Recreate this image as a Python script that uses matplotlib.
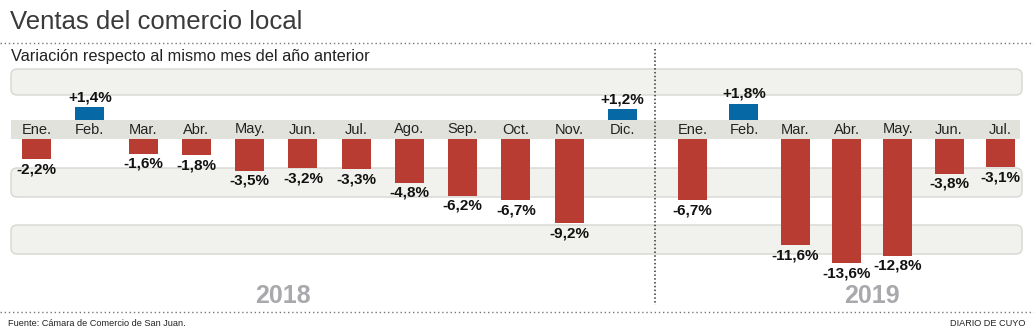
import matplotlib
matplotlib.use("Agg")
import matplotlib.pyplot as plt
from matplotlib.patches import FancyBboxPatch, Rectangle

# --------------------------------------------------
# DATA
# --------------------------------------------------
months_2018 = ["Ene.", "Feb.", "Mar.", "Abr.", "May.", "Jun.", "Jul.",
               "Ago.", "Sep.", "Oct.", "Nov.", "Dic."]
values_2018 = [-2.2, 1.4, -1.6, -1.8, -3.5, -3.2, -3.3, -4.8, -6.2, -6.7, -9.2, 1.2]

months_2019 = ["Ene.", "Feb.", "Mar.", "Abr.", "May.", "Jun.", "Jul."]
values_2019 = [-6.7, 1.8, -11.6, -13.6, -12.8, -3.8, -3.1]

title = "Ventas del comercio local"
subtitle = "Variación respecto al mismo mes del año anterior"
source = "Fuente: Cámara de Comercio de San Juan."
brand = "DIARIO DE CUYO"

# --------------------------------------------------
# STYLE / LAYOUT (pixels)
# --------------------------------------------------
W, H = 1034, 333
RED = "#b83c31"
BLUE = "#0768a6"
BAND = "#f1f1ed"
BAND_EDGE = "#d6d6d2"
LABEL_BAND = "#e2e2dc"
YEAR_GREY = "#a9a9ad"

PX_PER_PCT = 9.14
ZERO_Y = 139          # pixel row of the negative baseline
GAP_PX = 19           # height of the month band
AX_TOP, AX_BOT = 60, 300

plt.rcParams["font.family"] = ["Liberation Sans", "DejaVu Sans"]

fig = plt.figure(figsize=(W / 100, H / 100), dpi=100)

# background axes in pixel coordinates
bg = fig.add_axes([0, 0, 1, 1])
bg.set_xlim(0, W)
bg.set_ylim(H, 0)
bg.axis("off")


def band(y0, y1, x0=11, x1=1022, color=BAND, edge=BAND_EDGE, rounded=True):
    if rounded:
        p = FancyBboxPatch((x0 + 6, y0 + 6), x1 - x0 - 12, y1 - y0 - 12,
                           boxstyle="round,pad=6", facecolor=color,
                           edgecolor=edge, linewidth=1.0)
    else:
        p = Rectangle((x0, y0), x1 - x0, y1 - y0, facecolor=color,
                      edgecolor="none")
    bg.add_patch(p)


band(69, 95)
band(168, 197)
band(225, 254)
band(120, ZERO_Y, x1=1020, color=LABEL_BAND, rounded=False)

# dotted separators
bg.plot([0, W], [43, 43], color="#777777", lw=1.0, ls=(0, (1, 2)))
bg.plot([0, W], [312, 312], color="#777777", lw=1.0, ls=(0, (1, 2)))
bg.plot([655, 655], [49, 305], color="#333333", lw=1.1, ls=(0, (1, 1.5)))

# texts
bg.text(10, 22, title, fontsize=18.5, color="#3a3a3a", va="center", ha="left")
bg.text(11, 57, subtitle, fontsize=11.8, color="#222222", va="center", ha="left")
bg.text(283, 296, "2018", fontsize=18, fontweight="bold", color=YEAR_GREY,
        ha="center", va="center")
bg.text(872, 296, "2019", fontsize=18, fontweight="bold", color=YEAR_GREY,
        ha="center", va="center")
bg.text(8, 324, source, fontsize=6.6, color="#222222", va="center", ha="left")
bg.text(1025, 324, brand, fontsize=6.6, color="#222222", va="center", ha="right")


# --------------------------------------------------
# BAR PANELS
# --------------------------------------------------
def bar_panel(x0, x1, months, values, width):
    ax = fig.add_axes([x0 / W, 1 - AX_BOT / H, (x1 - x0) / W, (AX_BOT - AX_TOP) / H])
    ax.set_facecolor("none")
    ax.axis("off")
    n = len(months)
    ax.set_xlim(-0.5, n - 0.5)
    ax.set_ylim(-(AX_BOT - ZERO_Y) / PX_PER_PCT, (ZERO_Y - AX_TOP) / PX_PER_PCT)
    gap = GAP_PX / PX_PER_PCT
    pad = 3 / PX_PER_PCT
    for i, (m, v) in enumerate(zip(months, values)):
        label = f"{v:+.1f}%".replace(".", ",")
        if v >= 0:
            ax.bar(i, v, width=width, bottom=gap, color=BLUE)
            ax.text(i, gap + v + pad, label, ha="center", va="bottom",
                    fontsize=11, fontweight="bold", color="#111111")
        else:
            ax.bar(i, v, width=width, color=RED)
            ax.text(i, v - pad, label, ha="center", va="top",
                    fontsize=11, fontweight="bold", color="#111111")
        ax.text(i, gap / 2, m, ha="center", va="center", fontsize=10.5,
                color="#222222")
    return ax


bar_panel(10, 649, months_2018, values_2018, 0.545)
bar_panel(667, 1026, months_2019, values_2019, 0.566)

fig.savefig("out.png", dpi=100)
